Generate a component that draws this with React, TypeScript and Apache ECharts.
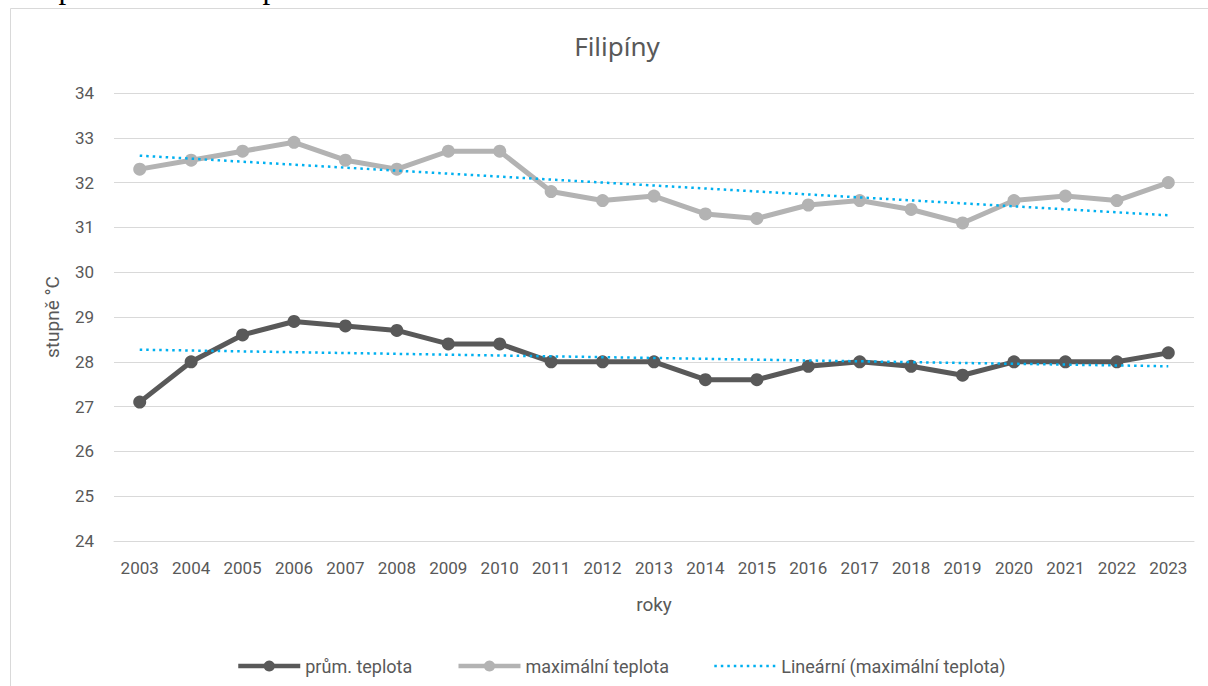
import React, { useEffect, useRef } from "react";
import * as echarts from "echarts";

const years = ["2003","2004","2005","2006","2007","2008","2009","2010","2011","2012","2013","2014","2015","2016","2017","2018","2019","2020","2021","2022","2023"];
const avgTemp = [27.1,28.0,28.6,28.9,28.8,28.7,28.4,28.4,28.0,28.0,28.0,27.6,27.6,27.9,28.0,27.9,27.7,28.0,28.0,28.0,28.2];
const maxTemp = [32.3,32.5,32.7,32.9,32.5,32.3,32.7,32.7,31.8,31.6,31.7,31.3,31.2,31.5,31.6,31.4,31.1,31.6,31.7,31.6,32.0];
// trend line end points
const maxTrendEnds = [32.6, 31.27];
const avgTrendEnds = [28.27, 27.9];

const seriesNames = ["prům. teplota", "maximální teplota", "Lineární (maximální teplota)", "Lineární (prům. teplota)"];

export default function App() {
  const ref = useRef<HTMLDivElement>(null);
  useEffect(() => {
    if (!ref.current) return;
    const chart = echarts.init(ref.current, null, { renderer: "svg" });
    const font = "Roboto, 'Noto Sans', sans-serif";
    const trendData = (ends: number[]) => [[years[0], ends[0]], [years[years.length - 1], ends[1]]];
    chart.setOption({
      animation: false,
      backgroundColor: "#ffffff",
      textStyle: { fontFamily: font },
      title: {
        text: "Filipíny",
        left: 612,
        textAlign: "center",
        top: 28,
        textStyle: { fontFamily: "'Noto Sans', sans-serif", fontSize: 26, fontWeight: "normal", color: "#595959" },
      },
      graphic: [
        {
          type: "rect",
          shape: { x: 10.5, y: 8.5, width: 1400, height: 900 },
          style: { fill: "none", stroke: "#d9d9d9", lineWidth: 1 },
          silent: true,
        },
        {
          type: "text",
          x: 28,
          y: 3,
          style: {
            text: "Teplotní změna za posledních 20 let:",
            font: "31px 'Liberation Serif', serif",
            fill: "#000000",
            textVerticalAlign: "bottom",
          },
          silent: true,
        },
      ],
      legend: {
        data: [
          { name: seriesNames[0], lineStyle: { width: 4.5, color: "#595959" } },
          { name: seriesNames[1], lineStyle: { width: 4.5, color: "#b3b3b3" } },
          { name: seriesNames[2], itemStyle: { opacity: 0 }, lineStyle: { width: 2.5, color: "#00b0f0", type: [2.5, 4] } },
        ],
        left: 231,
        top: 652,
        itemWidth: 62,
        itemHeight: 14,
        itemGap: 44,
        textStyle: { fontSize: 18, color: "#595959", fontFamily: font },
      },
      grid: { left: 114, right: 14, top: 93, bottom: 145, containLabel: false },
      xAxis: {
        type: "category",
        data: years,
        boundaryGap: true,
        name: "roky",
        nameLocation: "middle",
        nameGap: 54,
        nameTextStyle: { fontSize: 19, color: "#595959" },
        axisLine: { show: true, lineStyle: { color: "#d9d9d9" } },
        axisTick: { show: false },
        axisLabel: { fontSize: 17, color: "#595959", margin: 18 },
      },
      yAxis: {
        type: "value",
        min: 24,
        max: 34,
        interval: 1,
        name: "stupně °C",
        nameLocation: "middle",
        nameGap: 52,
        nameTextStyle: { fontSize: 19, color: "#595959" },
        axisLine: { show: false },
        axisTick: { show: false },
        axisLabel: { fontSize: 17, color: "#595959", margin: 20 },
        splitLine: { lineStyle: { color: "#d9d9d9", width: 1 } },
      },
      series: [
        {
          name: seriesNames[0],
          type: "line",
          data: avgTemp,
          symbol: "circle",
          symbolSize: 13,
          color: "#595959",
          lineStyle: { color: "#595959", width: 5 },
          itemStyle: { color: "#595959" },
          z: 2,
        },
        {
          name: seriesNames[1],
          type: "line",
          data: maxTemp,
          symbol: "circle",
          symbolSize: 13,
          color: "#b3b3b3",
          lineStyle: { color: "#b3b3b3", width: 5 },
          itemStyle: { color: "#b3b3b3" },
          z: 2,
        },
        {
          name: seriesNames[2],
          type: "line",
          data: trendData(maxTrendEnds),
          symbol: "none",
          color: "#00b0f0",
          lineStyle: { color: "#00b0f0", width: 2.5, type: [2.5, 4] },
          z: 3,
        },
        {
          name: seriesNames[3],
          type: "line",
          data: trendData(avgTrendEnds),
          symbol: "none",
          color: "#00b0f0",
          lineStyle: { color: "#00b0f0", width: 2.5, type: [2.5, 4] },
          z: 3,
        },
      ],
    });
    return () => chart.dispose();
  }, []);
  return (
    <div
      ref={ref}
      style={{ position: "fixed", left: 0, top: 0, width: 1208, height: 686, background: "#fff" }}
    />
  );
}
